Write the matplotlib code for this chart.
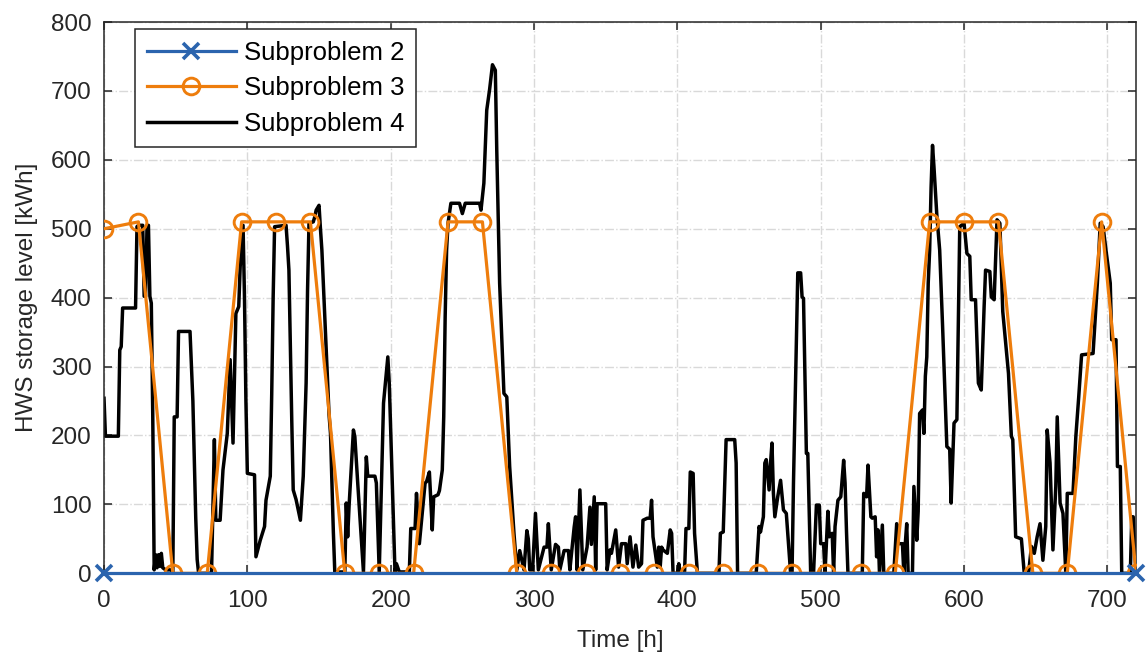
import matplotlib
matplotlib.use('Agg')
import matplotlib.pyplot as plt

plt.rcParams['font.family'] = ['Liberation Sans', 'DejaVu Sans']

# Subproblem 2: flat at zero over the whole horizon
sub2_t = [0, 720]
sub2_v = [0, 0]

# Subproblem 3: daily values (every 24 h)
sub3_t = list(range(0, 721, 24))
sub3_v = [500, 510, 0, 0, 510, 510, 510, 0, 0, 0, 510, 510, 0, 0, 0, 0,
          0, 0, 0, 0, 0, 0, 0, 0, 510, 510, 510, 0, 0, 510, 0]

# Subproblem 4: hourly storage trajectory
sub4_t = [0, 1, 10, 11, 12, 13, 22, 23, 24, 27, 28, 29, 30, 31, 32, 33, 34, 35,
          36, 37, 38, 39, 40, 41, 43, 47, 48, 49, 51, 52, 60, 62, 64, 65, 66,
          75, 77, 78, 81, 83, 86, 88, 89, 90, 92, 94, 95, 97, 98, 99, 100, 105,
          106, 109, 112, 113, 116, 117, 118, 119,
          127, 128, 129, 130, 131, 132, 134, 137, 139, 141, 142, 143, 146, 147,
          148, 150, 151, 152, 155, 157, 158, 160, 161, 168, 169, 170, 171, 174,
          175, 177, 181, 183, 184, 189, 190, 192, 195, 198, 199, 203, 204, 206,
          213, 214, 217, 218, 220, 222, 224, 225, 227, 229, 230, 233, 234, 236,
          237, 238, 239, 240, 242,
          248, 250, 252, 262, 263, 265, 267, 269, 271, 273, 274, 276, 279, 281,
          283, 286, 288, 290, 293, 295, 296, 297, 299, 301, 303, 307, 309, 310,
          312, 315, 317, 318, 321, 324, 325, 328, 329, 330, 332, 334, 337, 339,
          340, 342, 343, 344, 350, 351,
          353, 354, 357, 359, 361, 364, 365, 367, 369, 371, 373, 375, 376, 379,
          381, 382, 383, 384, 386, 387, 388, 389, 390, 393, 395, 396, 397, 400,
          401, 402, 405, 406, 408, 409, 411, 412, 414, 429, 430, 432, 434, 440,
          441, 442, 455, 457, 458, 460, 461, 462, 464, 465, 466, 467, 468, 470,
          472, 474, 476, 479, 480, 481, 484, 486, 487, 488, 490, 491, 493, 495,
          497, 499, 500, 502, 503, 505, 506, 508, 509, 510, 512, 514, 516, 517,
          518, 519, 529, 530, 532, 533, 535, 536, 538, 539, 540, 541, 543, 544,
          551, 553, 554, 557, 558, 559, 560, 561, 564, 565, 567, 568, 569, 571,
          572, 573, 574, 575, 576, 577, 578, 579, 581, 583, 585, 587, 588, 590,
          591, 593, 595, 596, 597, 600, 602, 604, 605, 608, 610, 612, 614, 615,
          618, 619, 621, 623, 625, 627, 631, 633, 634, 636, 640, 642, 645, 647,
          649, 651, 653, 655, 657, 658, 660, 662, 664, 665, 667, 669, 671, 672,
          676, 678, 680, 682, 690, 693, 695, 697, 699, 702, 703, 706, 707, 709,
          710, 716, 717, 718, 720]
sub4_v = [254, 199, 199, 324, 329, 385, 385, 503, 505, 505, 402, 402, 503, 505,
          402, 392, 230, 5, 27, 8, 27, 10, 29, 8, 5, 5, 0, 227, 227, 351, 351,
          250, 80, 20, 0, 0, 194, 77, 77, 150, 203, 310, 250, 189, 377, 387,
          445, 505, 400, 250, 145, 143, 24, 48, 68, 106, 141, 260, 400, 503,
          505, 475, 440, 330, 220, 121, 107, 77, 141, 276, 411, 508, 510, 517,
          527, 534, 500, 469, 324, 230, 203, 60, 2, 2, 102, 53, 99, 208, 198,
          131, 2, 169, 141, 141, 131, 2, 247, 314, 276, 2, 14, 2, 2, 65, 65,
          116, 43, 87, 131, 133, 147, 63, 111, 114, 120, 150, 227, 372, 469,
          508, 537,
          537, 522, 537, 537, 527, 566, 672, 702, 738, 730, 614, 421, 261, 256,
          155, 58, 5, 33, 5, 62, 50, 5, 5, 87, 5, 38, 38, 72, 5, 42, 38, 5, 33,
          33, 5, 67, 82, 5, 121, 5, 38, 96, 42, 111, 5, 101, 101, 5,
          34, 29, 63, 9, 43, 43, 14, 53, 9, 41, 9, 14, 77, 80, 80, 106, 53, 38,
          9, 38, 9, 38, 34, 29, 63, 58, 0, 0, 14, 0, 0, 65, 65, 147, 145, 58,
          0, 0, 58, 60, 194, 194, 160, 0, 0, 68, 60, 82, 160, 165, 121, 160,
          189, 116, 82, 111, 135, 92, 87, 0, 0, 131, 436, 436, 401, 399, 174,
          174, 0, 0, 99, 99, 43, 43, 0, 90, 53, 58, 0, 68, 106, 111, 164, 131,
          60, 0, 0, 116, 111, 157, 82, 80, 82, 24, 63, 0, 70, 0, 0, 72, 43, 43,
          0, 43, 72, 0, 0, 126, 48, 90, 232, 237, 203, 286, 314, 421, 469, 560,
          621, 590, 520, 469, 360, 240, 184, 180, 102, 218, 223, 368, 503, 508,
          464, 460, 397, 397, 276, 266, 387, 440, 438, 401, 397, 513, 508, 380,
          290, 199, 194, 53, 50, 0, 0, 39, 29, 53, 72, 19, 68, 208, 160, 34,
          126, 227, 102, 87, 0, 116, 116, 199, 256, 317, 319, 421, 508, 503,
          469, 421, 339, 339, 155, 155, 0, 0, 82, 82, 0]

C_BLUE = '#2B64AE'
C_ORANGE = '#EE7D0C'
C_TEXT = '#262626'
FS = 17.5

fig = plt.figure(figsize=(11.48, 6.55), dpi=100, facecolor='white')
ax = fig.add_axes([0.0906, 0.1247, 0.899, 0.8417])

ax.plot(sub4_t, sub4_v, color='black', linewidth=2.5, zorder=2,
        label='Subproblem 4')
ax.plot(sub3_t, sub3_v, color=C_ORANGE, linewidth=2.3, marker='o',
        markersize=12, markerfacecolor='none', markeredgewidth=2.1,
        zorder=3, label='Subproblem 3')
ax.plot(sub2_t, sub2_v, color=C_BLUE, linewidth=2.3, marker='x',
        markersize=11, markeredgewidth=2.6, zorder=4, clip_on=False,
        label='Subproblem 2')

ax.set_xlim(0, 720)
ax.set_ylim(0, 800)
ax.set_xticks(range(0, 701, 100))
ax.set_yticks(range(0, 801, 100))

ax.grid(True, linestyle='-.', color='#D9D9D9', linewidth=1.0)
ax.set_axisbelow(True)
for sp in ax.spines.values():
    sp.set_color(C_TEXT)
    sp.set_linewidth(1.1)
ax.tick_params(direction='in', length=6, width=1.1, color=C_TEXT,
               labelcolor=C_TEXT, labelsize=FS, top=True, right=True)
ax.tick_params(axis='x', pad=12)
ax.tick_params(axis='y', pad=9)

ax.set_xlabel('Time [h]', fontsize=FS, color=C_TEXT)
ax.set_ylabel('HWS storage level [kWh]', fontsize=FS, color=C_TEXT)
ax.xaxis.set_label_coords(0.5, -0.102)
ax.yaxis.set_label_coords(-0.064, 0.5)

h, l = ax.get_legend_handles_labels()
leg = ax.legend(h[::-1], l[::-1], loc='upper left',
                bbox_to_anchor=(0.030, 0.987), borderaxespad=0,
                fontsize=18.5, frameon=True, fancybox=False,
                edgecolor=C_TEXT, framealpha=1, handlelength=3.5,
                handletextpad=0.3, labelspacing=0.45, borderpad=0.45,
                numpoints=1)
leg.get_frame().set_linewidth(1.1)
for t in leg.get_texts():
    t.set_color('black')

fig.savefig('out.png', dpi=100)
